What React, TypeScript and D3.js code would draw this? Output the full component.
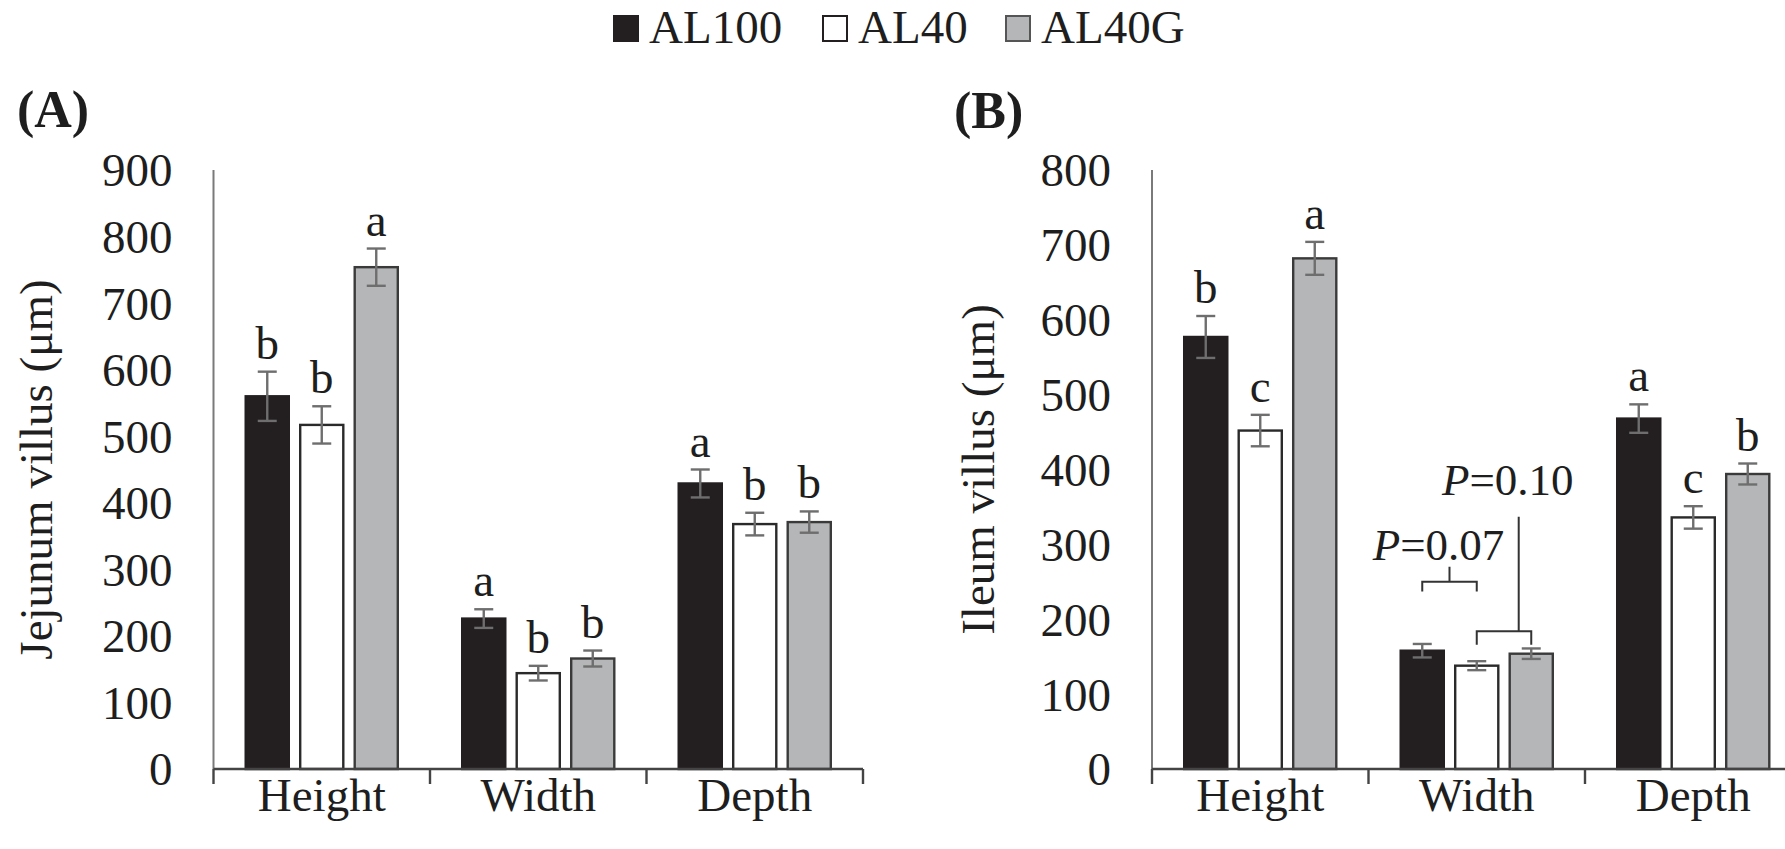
import React from "react";
import * as d3 from "d3";

// Treatments and measured villus dimensions
const series = ["AL100", "AL40", "AL40G"];
const categories = ["Height", "Width", "Depth"];

// Jejunum villus (µm): rows = category, columns = treatment
const jejunumMeans = [
  [560, 517, 754],
  [226, 144, 166],
  [429, 368, 371],
];
const jejunumErrors = [
  [37, 28, 28],
  [14, 11, 12],
  [21, 17, 16],
];
const jejunumLetters = [
  ["b", "b", "a"],
  ["a", "b", "b"],
  ["a", "b", "b"],
];
const jejunumTicks = [0, 100, 200, 300, 400, 500, 600, 700, 800, 900];

// Ileum villus (µm)
const ileumMeans = [
  [577, 452, 682],
  [158, 138, 154],
  [468, 336, 394],
];
const ileumErrors = [
  [28, 21, 22],
  [9, 6, 7],
  [19, 15, 14],
];
const ileumLetters = [
  ["b", "c", "a"],
  ["", "", ""],
  ["a", "c", "b"],
];
const ileumTicks = [0, 100, 200, 300, 400, 500, 600, 700, 800];

// Pairwise trend brackets on the ileum width (values in µm)
const ileumBrackets = [
  { category: "Width", from: 0, to: 1, level: 250, legEnd: 237, stemTop: 270, stemAt: 0.5, p: "0.07", textAt: 279 },
  { category: "Width", from: 1, to: 2, level: 184, legEnd: 166, stemTop: 337, stemAt: 0.77, p: "0.10", textAt: 366 },
];

const fills = ["#231f20", "#ffffff", "#b5b6b8"];
const strokes = ["#231f20", "#2a2a2a", "#3a3a3a"];
const FONT = "'Liberation Serif', 'Times New Roman', serif";
const TEXT = "#1e1e1e";
const FS = 47;

const PLOT_TOP = 170;
const PLOT_BOTTOM = 769;
const CAT_WIDTH = 216.5;
const STEP = 54.5;
const CAT_LABEL_Y = 811;

type Bracket = typeof ileumBrackets[number];

function Panel(props: {
  axisX: number;
  yMax: number;
  ticks: number[];
  means: number[][];
  errors: number[][];
  letters: string[][];
  title: string;
  titleX: number;
  brackets?: Bracket[];
}) {
  const { axisX, yMax, ticks, means, errors, letters, title, titleX, brackets = [] } = props;
  const y = d3.scaleLinear().domain([0, yMax]).range([PLOT_BOTTOM, PLOT_TOP]);
  const x = d3
    .scaleBand<string>()
    .domain(categories)
    .range([axisX, axisX + CAT_WIDTH * categories.length])
    .padding(0);
  const inner = d3
    .scaleBand<string>()
    .domain(series)
    .range([CAT_WIDTH / 2 - (STEP * 3) / 2, CAT_WIDTH / 2 + (STEP * 3) / 2])
    .paddingInner(9 / STEP)
    .paddingOuter(9 / STEP / 2);
  const bw = inner.bandwidth();
  const boundaries = d3.range(categories.length + 1).map((i) => axisX + i * CAT_WIDTH);
  const cx = (ci: number, si: number) => (x(categories[ci]) as number) + (inner(series[si]) as number) + bw / 2;

  return (
    <g>
      {/* y tick labels */}
      {ticks.map((t) => (
        <text key={t} x={axisX - 41} y={y(t)} dy="0.35em" textAnchor="end" fontSize={FS} fontFamily={FONT} fill={TEXT}>
          {t}
        </text>
      ))}
      <text
        transform={`translate(${titleX},${(PLOT_TOP + PLOT_BOTTOM) / 2}) rotate(-90)`}
        textAnchor="middle"
        fontSize={FS}
        fontFamily={FONT}
        fill={TEXT}
      >
        {title}
      </text>

      {/* bars */}
      {categories.map((c, ci) =>
        series.map((s, si) => {
          const v = means[ci][si];
          const x0 = (x(c) as number) + (inner(s) as number);
          return (
            <rect
              key={c + s}
              x={x0 + 1.2}
              y={y(v)}
              width={bw - 2.4}
              height={y(0) - y(v)}
              fill={fills[si]}
              stroke={strokes[si]}
              strokeWidth={2.4}
            />
          );
        })
      )}

      {/* error bars */}
      {categories.map((c, ci) =>
        series.map((s, si) => {
          const v = means[ci][si];
          const e = errors[ci][si];
          const xc = cx(ci, si);
          return (
            <g key={"e" + c + s} stroke="#6e6e6e" strokeWidth={2.4}>
              <line x1={xc} x2={xc} y1={y(v + e)} y2={y(v - e)} />
              <line x1={xc - 9.5} x2={xc + 9.5} y1={y(v + e)} y2={y(v + e)} />
              <line x1={xc - 9.5} x2={xc + 9.5} y1={y(v - e)} y2={y(v - e)} />
            </g>
          );
        })
      )}

      {/* significance letters */}
      {categories.map((c, ci) =>
        series.map((s, si) =>
          letters[ci][si] ? (
            <text
              key={"l" + c + s}
              x={cx(ci, si)}
              y={y(means[ci][si] + errors[ci][si]) - 13}
              textAnchor="middle"
              fontSize={FS}
              fontFamily={FONT}
              fill={TEXT}
            >
              {letters[ci][si]}
            </text>
          ) : null
        )
      )}

      {/* trend brackets */}
      {brackets.map((b, i) => {
        const ci = categories.indexOf(b.category);
        const xa = cx(ci, b.from);
        const xb = cx(ci, b.to);
        const xs = xa + (xb - xa) * b.stemAt;
        return (
          <g key={"b" + i}>
            <path
              d={`M${xa},${y(b.legEnd)}V${y(b.level)}H${xb}V${y(b.legEnd)}M${xs},${y(b.level)}V${y(b.stemTop)}`}
              fill="none"
              stroke="#333"
              strokeWidth={2}
            />
            <text x={xs - 11} y={y(b.textAt)} textAnchor="middle" fontSize={45} fontFamily={FONT} fill={TEXT}>
              <tspan fontStyle="italic">P</tspan>
              {"=" + b.p}
            </text>
          </g>
        );
      })}

      {/* axes */}
      <line x1={axisX} x2={axisX} y1={PLOT_TOP} y2={PLOT_BOTTOM} stroke="#7a7a7a" strokeWidth={2} />
      <line
        x1={axisX}
        x2={boundaries[boundaries.length - 1]}
        y1={PLOT_BOTTOM}
        y2={PLOT_BOTTOM}
        stroke="#444"
        strokeWidth={2.4}
      />
      {boundaries.map((bx) => (
        <line key={"t" + bx} x1={bx} x2={bx} y1={PLOT_BOTTOM} y2={PLOT_BOTTOM + 15} stroke="#444" strokeWidth={2.4} />
      ))}
      {categories.map((c) => (
        <text
          key={"c" + c}
          x={(x(c) as number) + CAT_WIDTH / 2}
          y={CAT_LABEL_Y}
          textAnchor="middle"
          fontSize={FS}
          fontFamily={FONT}
          fill={TEXT}
        >
          {c}
        </text>
      ))}
    </g>
  );
}

const legendX = [613, 822, 1005];

export default function App() {
  return (
    <svg
      width={1785}
      height={849}
      viewBox="0 0 1785 849"
      style={{ position: "absolute", left: 0, top: 0, background: "#fff" }}
    >
      <rect width={1785} height={849} fill="#fff" />
      {/* legend */}
      {series.map((s, i) => (
        <g key={s}>
          <rect
            x={legendX[i] + 1}
            y={16}
            width={24}
            height={25}
            fill={fills[i]}
            stroke={i === 2 ? "#555" : "#231f20"}
            strokeWidth={2}
          />
          <text x={legendX[i] + 36} y={43} fontSize={FS} fontFamily={FONT} fill={TEXT}>
            {s}
          </text>
        </g>
      ))}

      <text x={17} y={127} fontSize={52} fontWeight="bold" fontFamily={FONT} fill={TEXT}>
        (A)
      </text>
      <text x={954} y={128} fontSize={52} fontWeight="bold" fontFamily={FONT} fill={TEXT}>
        (B)
      </text>

      <Panel
        axisX={213.5}
        yMax={900}
        ticks={jejunumTicks}
        means={jejunumMeans}
        errors={jejunumErrors}
        letters={jejunumLetters}
        title="Jejunum villus (μm)"
        titleX={52}
      />
      <Panel
        axisX={1152}
        yMax={800}
        ticks={ileumTicks}
        means={ileumMeans}
        errors={ileumErrors}
        letters={ileumLetters}
        title="Ileum villus (μm)"
        titleX={994}
        brackets={ileumBrackets}
      />
    </svg>
  );
}
